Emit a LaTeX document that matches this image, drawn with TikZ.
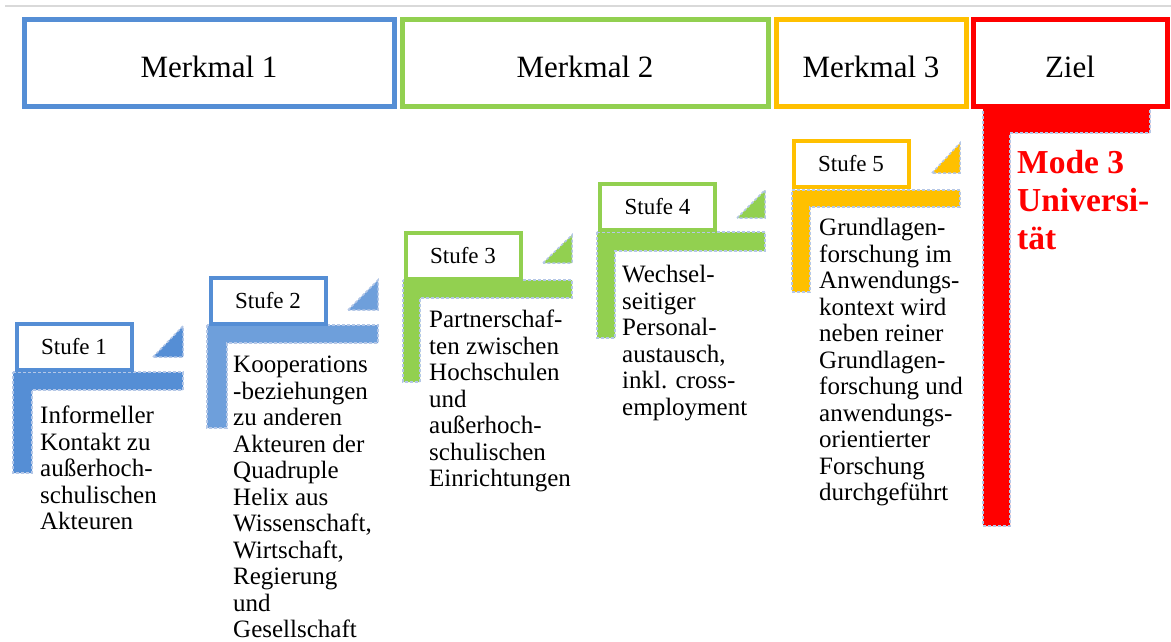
\documentclass[tikz,border=0pt]{standalone}
\usepackage{fontspec}
\setmainfont{Liberation Serif}
\definecolor{merkblue}{RGB}{85, 142, 213}
\definecolor{merkgreen}{RGB}{146, 208, 80}
\definecolor{merkgold}{RGB}{255, 192, 0}
\definecolor{zielred}{RGB}{255, 0, 0}
\definecolor{edgeblue}{RGB}{180, 199, 231}
\definecolor{rulegray}{RGB}{217, 217, 217}

\tikzset{
  merkmal/.style={draw=#1, line width=5pt, minimum height=87pt, inner sep=0pt,
    text height=28pt, text depth=0pt, font=\fontsize{31}{34}\selectfont},
  stufe/.style={draw=#1, fill=white, line width=4pt, minimum width=115pt,
    minimum height=46pt, inner sep=0pt, font=\fontsize{23}{25}\selectfont},
  treppe/.style={fill=#1, draw=edgeblue, line width=1.5pt, dash pattern=on 3pt off 2pt},
  beschr/.style={align=left, inner sep=0pt, anchor=north west, font=\fontsize{25}{26.5}\selectfont}
}

\begin{document}
\begin{tikzpicture}[x=1pt, y=-1pt]
  \useasboundingbox (0, 0) rectangle (1171, 642);
  \draw[rulegray, line width=2pt] (5, 6) -- (1171, 6);

  % ===== Ziel column =====
  \draw[treppe=zielred] (983, 107) -- (1150, 107) -- (1150, 133) -- (1010, 133) -- (1010, 526) -- (983, 526) -- cycle;
  \node[align=left, inner sep=0pt, anchor=north west, text=zielred, font=\fontsize{33.5}{38}\selectfont\bfseries] (mode) at (1017, 150.5) {Mode 3\\Universi-\\tät};

  % ===== Merkmale =====
  \node[merkmal=merkblue, minimum width=370pt] (m1) at (209, 63.5) {Merkmal 1};
  \node[merkmal=merkgreen, minimum width=366pt] (m2) at (585, 63.5) {Merkmal 2};
  \node[merkmal=merkgold, minimum width=190pt] (m3) at (871, 63.5) {Merkmal 3};
  \node[merkmal=zielred, minimum width=194pt] (ziel) at (1070, 63.5) {Ziel};

  % Stufe 1
  \draw[treppe=merkblue] (13, 372) -- (183, 372) -- (183, 390) -- (32, 390) -- (32, 473) -- (13, 473) -- cycle;
  \draw[treppe=merkblue] (153, 357) -- (183, 326) -- (183, 357) -- cycle;
  \node[stufe=merkblue] (s1) at (74, 347) {Stufe 1};
  \node[beschr] (t1) at (40, 406) {Informeller\\Kontakt zu\\außerhoch-\\schulischen\\Akteuren};

  % Stufe 2
  \draw[treppe=merkblue!85] (207, 325) -- (378, 325) -- (378, 343) -- (227, 343) -- (227, 428) -- (207, 428) -- cycle;
  \draw[treppe=merkblue!85] (348, 310) -- (378, 280) -- (378, 310) -- cycle;
  \node[stufe=merkblue] (s2) at (268, 300.5) {Stufe 2};
  \node[beschr] (t2) at (233, 356) {Kooperations\\-beziehungen\\zu anderen\\Akteuren der\\Quadruple\\Helix aus\\Wissenschaft,\\Wirtschaft,\\Regierung\\und\\Gesellschaft};

  % Stufe 3
  \draw[treppe=merkgreen] (403, 280) -- (572, 280) -- (572, 298) -- (420, 298) -- (420, 382) -- (403, 382) -- cycle;
  \draw[treppe=merkgreen] (543, 263) -- (572, 235) -- (572, 263) -- cycle;
  \node[stufe=merkgreen] (s3) at (463, 255.5) {Stufe 3};
  \node[beschr] (t3) at (429, 310) {Partnerschaf-\\ten zwischen\\Hochschulen\\und\\außerhoch-\\schulischen\\Einrichtungen};

  % Stufe 4
  \draw[treppe=merkgreen] (597, 232) -- (765, 232) -- (765, 251) -- (615, 251) -- (615, 338) -- (597, 338) -- cycle;
  \draw[treppe=merkgreen] (737, 218) -- (765, 190) -- (765, 218) -- cycle;
  \node[stufe=merkgreen] (s4) at (657.5, 207) {Stufe 4};
  \node[beschr] (t4) at (622, 265) {Wechsel-\\seitiger\\Personal-\\austausch,\\inkl. cross-\\employment};

  % Stufe 5
  \draw[treppe=merkgold] (792, 190) -- (960, 190) -- (960, 207) -- (810, 207) -- (810, 292) -- (792, 292) -- cycle;
  \draw[treppe=merkgold] (932, 173) -- (960, 143) -- (960, 173) -- cycle;
  \node[stufe=merkgold] (s5) at (851, 164) {Stufe 5};
  \node[beschr] (t5) at (819, 218) {Grundlagen-\\forschung im\\Anwendungs-\\kontext wird\\neben reiner\\Grundlagen-\\forschung und\\anwendungs-\\orientierter\\Forschung\\durchgeführt};
\end{tikzpicture}
\end{document}
